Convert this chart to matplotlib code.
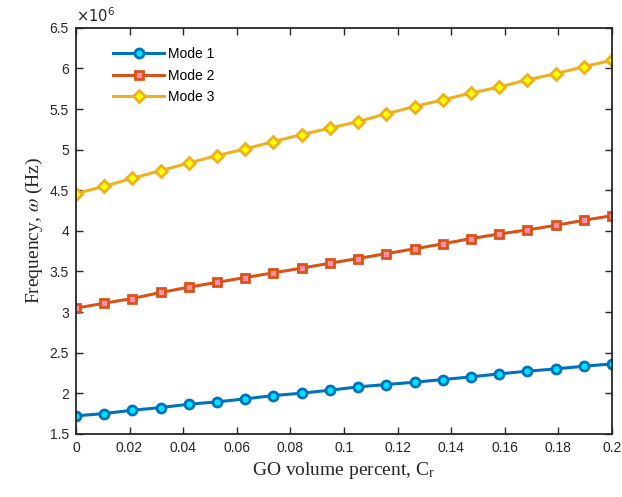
import numpy as np
import matplotlib
matplotlib.use("Agg")
import matplotlib.pyplot as plt
from matplotlib.ticker import FormatStrFormatter, MultipleLocator

plt.rcParams["mathtext.fontset"] = "stix"

# ── data (frequency in units of 1e6 Hz) ──────────────────────────────────────
c_r = np.linspace(0, 0.2, 20)
mode1 = [1.722, 1.750, 1.791, 1.824, 1.865, 1.894, 1.931, 1.972, 2.001, 2.038,
         2.079, 2.108, 2.136, 2.169, 2.202, 2.239, 2.272, 2.300, 2.333, 2.362]
mode2 = [3.048, 3.109, 3.167, 3.241, 3.306, 3.366, 3.425, 3.483, 3.540, 3.602,
         3.659, 3.720, 3.778, 3.840, 3.905, 3.961, 4.011, 4.068, 4.130, 4.187]
mode3 = [4.458, 4.548, 4.647, 4.741, 4.836, 4.926, 5.008, 5.099, 5.185, 5.265,
         5.346, 5.441, 5.531, 5.613, 5.696, 5.770, 5.860, 5.934, 6.023, 6.100]
labels = ["Mode 1", "Mode 2", "Mode 3"]

# MATLAB default colour order + marker faces
line_colors = ["#0072BD", "#D95319", "#EDB120"]
face_colors = ["#00E5FF", "#FF8FA8", "#FFFF00"]
markers = ["o", "s", "D"]
msizes = [6.5, 6, 6.3]

fig = plt.figure(figsize=(6.22, 4.97), dpi=100)
ax = fig.add_axes([0.122, 0.127, 0.862, 0.817])

for y, lab, lc, fc, mk, ms in zip([mode1, mode2, mode3], labels,
                                  line_colors, face_colors, markers, msizes):
    ax.plot(c_r, y, color=lc, linewidth=2.2, marker=mk, markersize=ms,
            markerfacecolor=fc, markeredgecolor=lc, markeredgewidth=2.0,
            label=lab)

ax.set_xlim(0, 0.2)
ax.set_ylim(1.5, 6.5)
ax.xaxis.set_major_locator(MultipleLocator(0.02))
ax.yaxis.set_major_locator(MultipleLocator(0.5))
ax.xaxis.set_major_formatter(FormatStrFormatter("%g"))
ax.yaxis.set_major_formatter(FormatStrFormatter("%g"))

tick_font = "Liberation Sans"
ax.tick_params(direction="in", top=True, right=True, length=5, width=1,
               labelsize=10, colors="#262626", pad=5)
for t in ax.get_xticklabels() + ax.get_yticklabels():
    t.set_fontfamily(tick_font)
for s in ax.spines.values():
    s.set_linewidth(1.3)
    s.set_color("#262626")

# exponent label, sans like the tick labels
ax.text(0.0, 1.008, r"$\times10^{6}$", transform=ax.transAxes,
        fontsize=10.5, color="#262626", ha="left", va="bottom",
        math_fontfamily="dejavusans")

ax.set_xlabel(r"GO volume percent, C$_\mathregular{r}$", fontsize=14,
              fontfamily="Liberation Serif", color="#262626", labelpad=4)
ax.set_ylabel(r"Frequency, $\omega$ (Hz)", fontsize=14,
              fontfamily="Liberation Serif", color="#262626", labelpad=3)

leg = ax.legend(loc="upper left", bbox_to_anchor=(0.069, 0.953), frameon=False,
                handlelength=3.7, labelspacing=0.55,
                handletextpad=0.25, borderaxespad=0, borderpad=0,
                prop={"family": tick_font, "size": 10})

fig.savefig("out.png", dpi=100)
